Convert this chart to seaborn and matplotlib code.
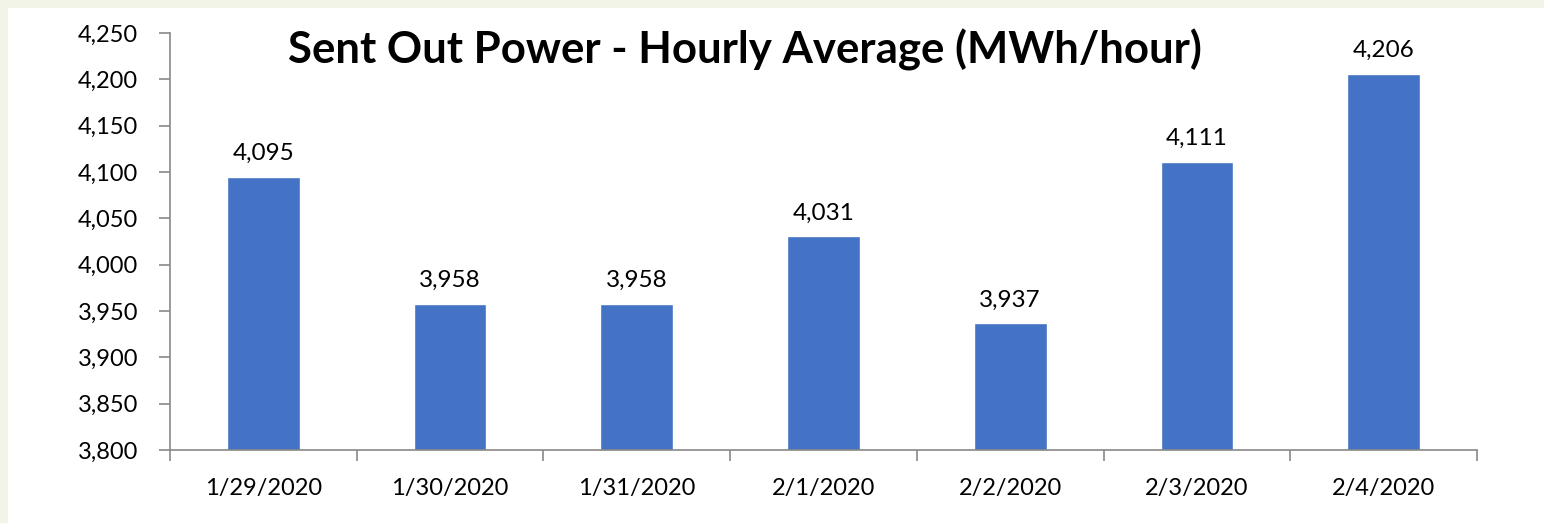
import matplotlib.pyplot as plt
import matplotlib.ticker as mticker
from matplotlib.patches import Rectangle
import seaborn as sns
import pandas as pd

# Chart data
dates = ["1/29/2020", "1/30/2020", "1/31/2020", "2/1/2020", "2/2/2020", "2/3/2020", "2/4/2020"]
power = [4095, 3958, 3958, 4031, 3937, 4111, 4206]
y_ticks = [3800, 3850, 3900, 3950, 4000, 4050, 4100, 4150, 4200, 4250]

df = pd.DataFrame({"date": dates, "power": power})

sns.set_style("white")
plt.rcParams['font.family'] = ['Lato', 'DejaVu Sans']
plt.rcParams['text.color'] = 'black'

fig = plt.figure(figsize=(15.44, 5.23), dpi=100)
fig.patch.set_facecolor("#F2F4E7")
# white slide panel behind everything
fig.add_artist(Rectangle((8 / 1544, 0), 1, 1 - 8 / 523, transform=fig.transFigure,
                         facecolor="white", edgecolor="none", zorder=-10))

ax = fig.add_axes([170 / 1544, 1 - 450 / 523, (1477 - 170) / 1544, (450 - 33) / 523])
ax.set_facecolor("none")
ax.set_zorder(5)

sns.barplot(data=df, x="date", y="power", color="#4472C4", width=0.39, saturation=1, ax=ax)

ax.set_ylim(3800, 4250)
ax.set_xlim(-0.5, len(dates) - 0.5)
ax.set_yticks(y_ticks)
ax.yaxis.set_major_formatter(mticker.FuncFormatter(lambda v, p: f"{v:,.0f}"))
ax.set_xlabel("")
ax.set_ylabel("")

# ticks between categories on the x axis
ax.set_xticks([i - 0.5 for i in range(len(dates) + 1)], minor=True)
ax.tick_params(axis="x", which="major", length=0, pad=20, labelsize=17, labelcolor="black")
ax.tick_params(axis="x", which="minor", length=8, color="#898989", width=1.2, bottom=True)
ax.tick_params(axis="y", length=8, color="#898989", width=1.2, left=True, pad=15,
               labelsize=17, labelcolor="black")

for side in ["top", "right"]:
    ax.spines[side].set_visible(False)
for side in ["left", "bottom"]:
    ax.spines[side].set_color("#898989")
    ax.spines[side].set_linewidth(1.2)

ax.bar_label(ax.containers[0], labels=[f"{v:,}" for v in power], padding=9, fontsize=17.5,
             color="black")

fig.text(745 / 1544, 1 - 50 / 523, "Sent Out Power - Hourly Average (MWh/hour)",
         ha="center", va="center", fontsize=31.5, fontweight="bold", color="black", zorder=10)

plt.savefig("out.png", dpi=100)
